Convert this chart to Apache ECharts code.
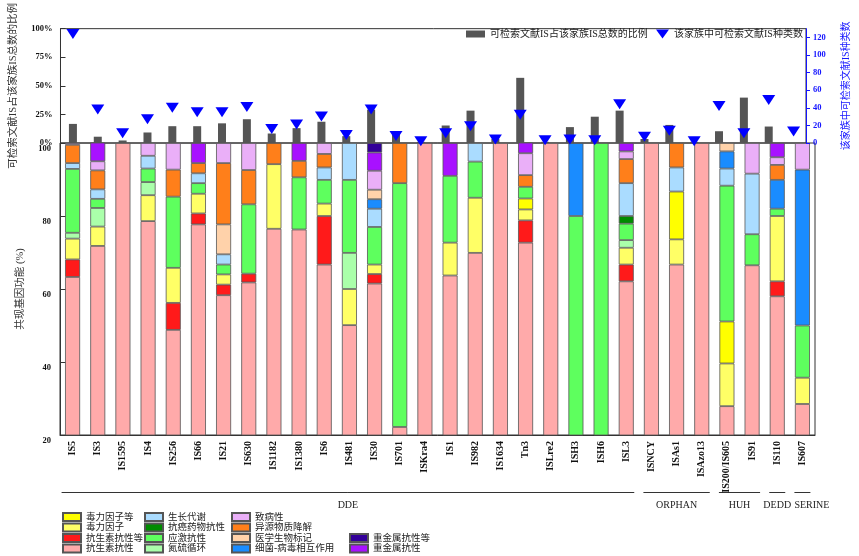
<!DOCTYPE html>
<html>
<head>
<meta charset="utf-8">
<script src="https://cdn.jsdelivr.net/npm/echarts@6/dist/echarts.min.js"></script>
<style>
  html, body { margin: 0; padding: 0; background: #fff; }
  #chart { width: 859px; height: 556px; }
</style>
</head>
<body>
<div id="chart"></div>
<script>
// IS families shown on the x axis
const categories = ['IS5','IS3','IS1595','IS4','IS256','IS66','IS21','IS630','IS1182','IS1380','IS6','IS481','IS30','IS701','ISKra4','IS1','IS982','IS1634','Tn3','ISLre2','ISH3','ISH6','ISL3','ISNCY','ISAs1','ISAzo13','IS200/IS605','IS91','IS110','IS607'];

// transposase groups (first / last family index of each group)
const groupNames = ['DDE','ORPHAN','HUH','DEDD','SERINE'];
const groupFirst = [0, 23, 26, 28, 29];
const groupLast  = [22, 25, 27, 28, 29];

// upper panel: share of documented IS in the family (%) and number of documented IS types
const shareName = '可检索文献IS占该家族IS总数的比例';
const countName = '该家族中可检索文献IS种类数';
const literatureShare = [16.7,5.5,2.2,9.2,14.7,14.7,17.2,20.8,8.3,13.0,18.6,6.0,29.2,9.7,1.0,15.3,28.3,3.5,57.0,1.0,13.9,23.0,28.3,3.5,15.8,1.0,10.3,39.7,14.4,0];
const literatureTypes = [124,38,11,27,40,35,35,41,16,21,30,9,38,8,2,11,19,4,32,3,4,3,44,7,14,2,42,11,49,13];

// lower panel: functions of co-occurring genes (%), in stacking order
const antibioticRes    = [63.3,71.8,100,78.6,48.8,77.7,58.3,61.8,76.5,76.3,66.7,50.1,61.5,22.2,100,63.7,69.9,100,72.7,100,0,0,62.1,100,66.7,100,27.9,66.5,58.0,28.5];
const antibioticResEtc = [4.8,0,0,0,7.4,3.0,2.9,2.4,0,0,13.3,0,2.6,0,0,0,0,0,6.1,0,0,0,4.6,0,0,0,0,0,4.1,0];
const virulence        = [5.7,5.3,0,7.1,9.6,5.4,2.8,0,17.7,0,3.4,9.9,2.6,0,0,9.0,15.1,0,3.0,0,0,0,4.6,0,6.9,0,11.7,0,17.9,7.2];
const virulenceEtc     = [0,0,0,0,0,0,0,0,0,0,0,0,0,0,0,0,0,0,3.0,0,0,0,0,0,13.1,0,11.5,0,0,0];
const nitrogenSulfur   = [1.6,5.1,0,3.6,0,0,0,0,0,0,0,9.9,0,0,0,0,0,0,0,0,0,0,2.1,0,0,0,0,0,0,0];
const stressRes        = [17.5,2.5,0,3.7,19.5,2.9,2.7,19.0,0,14.3,6.5,20.0,10.3,66.8,0,18.3,9.9,0,3.2,0,80,100,4.5,0,0,0,37.2,8.5,2.0,14.3];
const anticancerRes    = [0,0,0,0,0,0,0,0,0,0,0,0,0,0,0,0,0,0,0,0,0,0,2.1,0,0,0,0,0,0,0];
const growthMetab      = [1.6,2.6,0,3.5,0,2.7,2.8,0,0,0,3.4,10.1,5.0,0,0,0,5.1,0,0,0,0,0,9.0,0,6.6,0,4.7,16.6,0,0];
const phageInteract    = [0,0,0,0,0,0,0,0,0,0,0,0,2.6,0,0,0,0,0,0,0,20,0,0,0,0,0,4.7,0,7.9,42.7];
const biomarker        = [0,0,0,0,0,0,8.2,0,0,0,0,0,2.6,0,0,0,0,0,0,0,0,0,0,0,0,0,2.3,0,0,0];
const xenobiotic       = [5.0,5.2,0,0,7.4,2.8,16.8,9.4,5.8,4.5,3.7,0,0,11.0,0,0,0,0,3.2,0,0,0,6.6,0,6.7,0,0,0,4.1,0];
const pathogenicity    = [0.5,2.5,0,3.5,7.3,0,5.5,7.4,0,0,3.0,0,5.2,0,0,0,0,0,6.0,0,0,0,2.1,0,0,0,0,8.4,2.1,7.3];
const heavyMetal       = [0,5.2,0,0,0,5.5,0,0,0,4.9,0,0,5.0,0,0,9.0,0,0,3.0,0,0,0,2.3,0,0,0,0,0,3.9,0];
const heavyMetalEtc    = [0,0,0,0,0,0,0,0,0,0,0,0,2.6,0,0,0,0,0,0,0,0,0,0,0,0,0,0,0,0,0];

const functionSeries = [
  ['抗生素抗性', antibioticRes],
  ['抗生素抗性等', antibioticResEtc],
  ['毒力因子', virulence],
  ['毒力因子等', virulenceEtc],
  ['氮硫循环', nitrogenSulfur],
  ['应激抗性', stressRes],
  ['抗癌药物抗性', anticancerRes],
  ['生长代谢', growthMetab],
  ['细菌-病毒相互作用', phageInteract],
  ['医学生物标记', biomarker],
  ['异源物质降解', xenobiotic],
  ['致病性', pathogenicity],
  ['重金属抗性', heavyMetal],
  ['重金属抗性等', heavyMetalEtc]
];

const functionColors = {
  '抗生素抗性': '#FFAAAA',
  '抗生素抗性等': '#FF1A1A',
  '毒力因子': '#FFFF66',
  '毒力因子等': '#FFFF00',
  '氮硫循环': '#AAFFAA',
  '应激抗性': '#5EFF5E',
  '抗癌药物抗性': '#008C00',
  '生长代谢': '#AADCFF',
  '细菌-病毒相互作用': '#1A8CFF',
  '医学生物标记': '#FFD2AA',
  '异源物质降解': '#FF7F1A',
  '致病性': '#EAAFF8',
  '重金属抗性': '#A811FF',
  '重金属抗性等': '#330099'
};

const legendColumns = [
  ['毒力因子等', '毒力因子', '抗生素抗性等', '抗生素抗性'],
  ['生长代谢', '抗癌药物抗性', '应激抗性', '氮硫循环'],
  ['致病性', '异源物质降解', '医学生物标记', '细菌-病毒相互作用'],
  ['重金属抗性等', '重金属抗性']
];

const SERIF = '"Times New Roman", "Liberation Serif", "Noto Sans CJK SC", serif';
const BLUE = '#1414FF';

const chart = echarts.init(document.getElementById('chart'), null, { renderer: 'canvas' });

function legendColumn(names, left, top) {
  return {
    orient: 'vertical', left: left, top: top, padding: 0,
    itemWidth: 18, itemHeight: 8, itemGap: 0.5,
    icon: 'rect', selectedMode: false, data: names,
    textStyle: { fontFamily: SERIF, fontSize: 9.5, lineHeight: 10, color: '#222' }
  };
}

const stacked = functionSeries.map(([name, values]) => ({
  name: name,
  type: 'bar',
  stack: 'functions',
  xAxisIndex: 1,
  yAxisIndex: 2,
  barWidth: 15,
  data: values.map(v => (v > 0 ? v : null)),
  itemStyle: { color: functionColors[name], borderColor: '#555', borderWidth: 0.8 },
  emphasis: { disabled: true }
}));

const option = {
  animation: false,
  backgroundColor: '#fff',
  grid: [
    { left: 60, top: 23, width: 755, height: 120, show: true, borderColor: '#333', borderWidth: 1 },
    { left: 60, top: 143, width: 755, height: 292, show: true, borderColor: '#333', borderWidth: 1 }
  ],
  xAxis: [
    { type: 'category', gridIndex: 0, data: categories,
      axisLine: { show: false }, axisTick: { show: false }, axisLabel: { show: false } },
    { type: 'category', gridIndex: 1, data: categories,
      axisLine: { lineStyle: { color: '#333' } }, axisTick: { show: false },
      axisLabel: { interval: 0, rotate: 90, margin: 6, fontFamily: SERIF, fontSize: 10,
                   fontWeight: 'bold', color: '#111' } }
  ],
  yAxis: [
    { type: 'value', gridIndex: 0, min: 0, max: 100, interval: 25, position: 'left',
      name: shareName, nameLocation: 'middle', nameGap: 42,
      nameTextStyle: { fontFamily: SERIF, fontSize: 10.5, color: '#333' },
      axisLine: { show: true, lineStyle: { color: '#333' } },
      axisTick: { show: true, inside: true, length: 5, lineStyle: { color: '#333' } },
      axisLabel: { formatter: '{value}%', margin: 8, fontFamily: SERIF, fontSize: 8.5,
                   fontWeight: 'bold', color: '#111' },
      splitLine: { show: false } },
    { type: 'value', gridIndex: 0, min: 0, max: 130, interval: 20, position: 'right', z: 3,
      name: countName, nameLocation: 'middle', nameGap: 35,
      nameTextStyle: { fontFamily: SERIF, fontSize: 10, color: BLUE },
      axisLine: { show: true, lineStyle: { color: BLUE } },
      axisTick: { show: true, inside: false, length: 4, lineStyle: { color: BLUE },
                  customValues: [0, 20, 40, 60, 80, 100, 120] },
      axisLabel: { showMaxLabel: false, margin: 7, fontFamily: SERIF, fontSize: 8.5,
                   fontWeight: 'bold', color: BLUE },
      splitLine: { show: false } },
    { type: 'value', gridIndex: 1, min: 20, max: 100, interval: 20, position: 'left',
      name: '共现基因功能 (%)', nameLocation: 'middle', nameGap: 35,
      nameTextStyle: { fontFamily: SERIF, fontSize: 10.5, color: '#333' },
      axisLine: { show: true, lineStyle: { color: '#333' } },
      axisTick: { show: true, inside: true, length: 6, lineStyle: { color: '#333' } },
      axisLabel: { margin: 9, verticalAlign: 'top', padding: [2, 0, 0, 0], fontFamily: SERIF,
                   fontSize: 8.5, fontWeight: 'bold', color: '#111' },
      splitLine: { show: false } }
  ],
  legend: [
    { left: 466, top: 29, padding: 0, itemWidth: 19, itemHeight: 7, selectedMode: false,
      data: [{ name: shareName, icon: 'rect' }],
      textStyle: { fontFamily: SERIF, fontSize: 10, color: '#222' } },
    { left: 656, top: 29, padding: 0, itemWidth: 13, itemHeight: 9, symbolKeepAspect: false,
      selectedMode: false, data: [countName],
      textStyle: { fontFamily: SERIF, fontSize: 10, color: '#222' } },
    legendColumn(legendColumns[0], 62, 512),
    legendColumn(legendColumns[1], 144, 512),
    legendColumn(legendColumns[2], 231, 512),
    legendColumn(legendColumns[3], 349, 533)
  ],
  series: [
    { name: shareName, type: 'bar', xAxisIndex: 0, yAxisIndex: 0, barWidth: 8,
      data: literatureShare, itemStyle: { color: '#555' }, emphasis: { disabled: true } },
    { name: countName, type: 'scatter', xAxisIndex: 0, yAxisIndex: 1, z: 5,
      symbol: 'path://M0,0 L10,0 L5,8 Z', symbolKeepAspect: false, symbolSize: [13, 10],
      data: literatureTypes, itemStyle: { color: '#0000FF', opacity: 1 },
      emphasis: { disabled: true } }
  ].concat(stacked)
};

chart.setOption(option);

// group brackets under the x-axis labels, placed from the category axis
const marks = [];
groupNames.forEach((name, i) => {
  const x1 = chart.convertToPixel({ xAxisIndex: 1 }, groupFirst[i]) - (i === 0 ? 11 : 8);
  const x2 = chart.convertToPixel({ xAxisIndex: 1 }, groupLast[i]) + 8;
  const lastGroup = i === groupNames.length - 1;
  marks.push({ type: 'line', silent: true,
    shape: { x1: x1, y1: 492.5, x2: x2, y2: 492.5 },
    style: { stroke: '#333', lineWidth: 1 } });
  marks.push({ type: 'text', silent: true,
    style: { text: name, x: lastGroup ? x1 : (x1 + x2) / 2, y: 505.5,
             align: lastGroup ? 'left' : 'center', verticalAlign: 'middle',
             fontFamily: SERIF, fontSize: 10, fill: '#222' } });
});
chart.setOption({ graphic: marks });
</script>
</body>
</html>
